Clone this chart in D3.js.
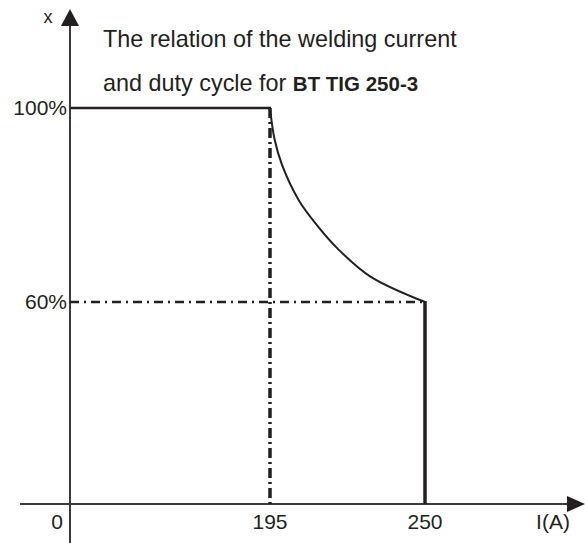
<!DOCTYPE html>
<html>
<head>
<meta charset="utf-8">
<script src="https://cdn.jsdelivr.net/npm/d3@7"></script>
<style>
  body { margin: 0; background: #fff; }
  text { font-family: "Liberation Sans", Arial, sans-serif; fill: #231f20; }
</style>
</head>
<body>
<div id="root"></div>
<script>
var width = 585;
var height = 543;

// current ticks (A) and duty cycle ticks (%)
var currentTicks = [0, 195, 250];
var dutyTicks = [60, 100];
var dutyLabels = ['60%', '100%'];

// duty cycle curve
var curveI = [195, 196.6, 199.3, 205.2, 212.0, 219.0, 230.5, 250];
var curveX = [100, 93.6, 88.2, 81.0, 75.6, 71.0, 65.3, 60];

var ink = '#231f20';

// schematic chart: axes are not to scale, so piecewise scales
var x = d3.scaleLinear().domain([0, 195, 250]).range([70, 270, 425]);
var y = d3.scaleLinear().domain([0, 60, 100]).range([504, 302, 108]);

var svg = d3.select('#root')
  .append('svg')
    .attr('width', width)
    .attr('height', height);

// axes
svg.append('line')
  .attr('x1', 20).attr('x2', 570)
  .attr('y1', y(0)).attr('y2', y(0))
  .attr('stroke', '#3b3b3b').attr('stroke-width', 2);
svg.append('path')
  .attr('d', d3.line()([[567, y(0) - 8], [585, y(0)], [567, y(0) + 8]]) + 'Z')
  .attr('fill', ink);

svg.append('line')
  .attr('x1', x(0)).attr('x2', x(0))
  .attr('y1', 24).attr('y2', height)
  .attr('stroke', '#3b3b3b').attr('stroke-width', 2);
svg.append('path')
  .attr('d', d3.line()([[x(0) - 9, 26], [x(0), 9], [x(0) + 9, 26]]) + 'Z')
  .attr('fill', ink);

// guide lines
svg.append('line')
  .attr('x1', x(195)).attr('x2', x(195))
  .attr('y1', y(100)).attr('y2', y(0))
  .attr('stroke', ink).attr('stroke-width', 3.5)
  .attr('stroke-dasharray', '10,4,2,4');

svg.append('line')
  .attr('x1', x(0)).attr('x2', x(250))
  .attr('y1', y(60)).attr('y2', y(60))
  .attr('stroke', ink).attr('stroke-width', 2.5)
  .attr('stroke-dasharray', '9,5,2,5');

// duty cycle limit
svg.append('line')
  .attr('x1', x(0)).attr('x2', x(195) + 1)
  .attr('y1', y(100)).attr('y2', y(100))
  .attr('stroke', ink).attr('stroke-width', 2.5);

var pts = curveI.map(function(d, i) { return [x(d), y(curveX[i])]; });
svg.append('path')
  .datum(pts)
  .attr('d', d3.line().curve(d3.curveCatmullRom.alpha(0.5)))
  .attr('fill', 'none')
  .attr('stroke', ink)
  .attr('stroke-width', 2);

svg.append('line')
  .attr('x1', x(250)).attr('x2', x(250))
  .attr('y1', y(60) - 1).attr('y2', y(0))
  .attr('stroke', ink).attr('stroke-width', 3.5);

// tick labels
svg.selectAll('.xt')
  .data(currentTicks)
  .enter()
  .append('text')
    .attr('class', 'xt')
    .attr('x', function(d) { return d === 0 ? x(d) - 13 : x(d); })
    .attr('y', 529)
    .attr('text-anchor', 'middle')
    .attr('font-size', 21)
    .text(function(d) { return d; });

svg.append('text')
  .attr('x', 553).attr('y', 529)
  .attr('text-anchor', 'middle')
  .attr('font-size', 21)
  .text('I(A)');

svg.selectAll('.yt')
  .data(dutyTicks)
  .enter()
  .append('text')
    .attr('class', 'yt')
    .attr('x', 67)
    .attr('y', function(d) { return y(d) + 7; })
    .attr('text-anchor', 'end')
    .attr('font-size', 21)
    .text(function(d, i) { return dutyLabels[i]; });

svg.append('text')
  .attr('x', 48).attr('y', 23)
  .attr('text-anchor', 'middle')
  .attr('font-size', 18)
  .text('x');

// title
svg.append('text')
  .attr('x', 103).attr('y', 47)
  .attr('font-size', 23.4)
  .text('The relation of the welding current');

var t2 = svg.append('text')
  .attr('x', 103).attr('y', 91)
  .attr('font-size', 23.4);
t2.append('tspan').text('and duty cycle for ');
t2.append('tspan')
  .attr('font-size', 20.5)
  .attr('font-weight', 'bold')
  .text('BT TIG 250-3');
</script>
</body>
</html>
